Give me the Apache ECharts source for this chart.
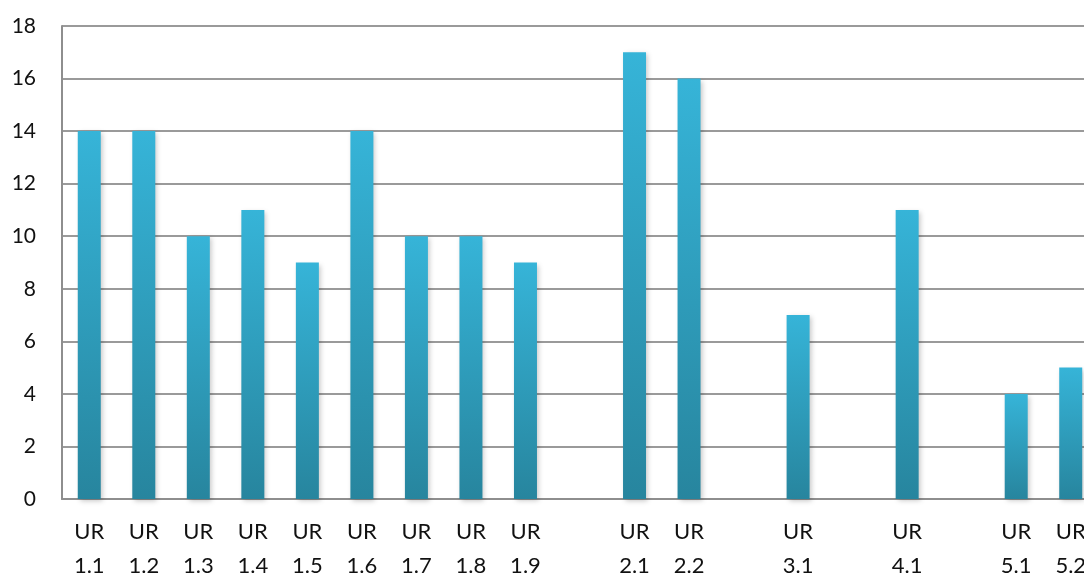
<!DOCTYPE html>
<html>
<head>
<meta charset="utf-8">
<script src="https://cdn.jsdelivr.net/npm/echarts@6/dist/echarts.min.js"></script>
<style>
  html, body { margin: 0; padding: 0; background: #ffffff; }
  #chart { width: 1084px; height: 576px; }
</style>
</head>
<body>
<div id="chart"></div>
<script>
// Category labels; empty strings are spacer slots between the UR groups
const categories = [
  'UR\n1.1', 'UR\n1.2', 'UR\n1.3', 'UR\n1.4', 'UR\n1.5', 'UR\n1.6', 'UR\n1.7', 'UR\n1.8', 'UR\n1.9',
  '',
  'UR\n2.1', 'UR\n2.2',
  ' ',
  'UR\n3.1',
  '  ',
  'UR\n4.1',
  '   ',
  'UR\n5.1', 'UR\n5.2'
];
const values = [14, 14, 10, 11, 9, 14, 10, 10, 9, '-', 17, 16, '-', 7, '-', 11, '-', 4, 5];
const yTicks = { min: 0, max: 18, interval: 2 };

const chart = echarts.init(document.getElementById('chart'));
const fontFamily = 'Lato, "Open Sans", sans-serif';

chart.setOption({
  animation: false,
  backgroundColor: '#ffffff',
  grid: {
    left: 62, top: 26, width: 1036, height: 473,
    containLabel: false,
    outerBoundsMode: 'none'
  },
  xAxis: {
    type: 'category',
    data: categories,
    axisLine: { show: true, lineStyle: { color: '#8e8e8e', width: 2 } },
    axisTick: { show: false },
    axisLabel: {
      interval: 0,
      color: '#111111',
      fontFamily: fontFamily,
      fontSize: 22,
      lineHeight: 34,
      margin: 16
    },
    splitLine: { show: false }
  },
  yAxis: {
    type: 'value',
    min: yTicks.min,
    max: yTicks.max,
    interval: yTicks.interval,
    axisLine: { show: true, lineStyle: { color: '#8e8e8e', width: 2 } },
    axisTick: { show: false },
    axisLabel: {
      color: '#111111',
      fontFamily: fontFamily,
      fontSize: 21,
      margin: 26
    },
    splitLine: { show: true, lineStyle: { color: '#9a9a9a', width: 2 } }
  },
  series: [{
    type: 'bar',
    data: values,
    barWidth: 23,
    itemStyle: {
      color: new echarts.graphic.LinearGradient(0, 0, 0, 1, [
        { offset: 0, color: '#36b4d8' },
        { offset: 1, color: '#27859e' }
      ]),
      shadowColor: 'rgba(0,0,0,0.22)',
      shadowBlur: 5,
      shadowOffsetX: 2,
      shadowOffsetY: 2
    }
  }]
});
</script>
</body>
</html>
